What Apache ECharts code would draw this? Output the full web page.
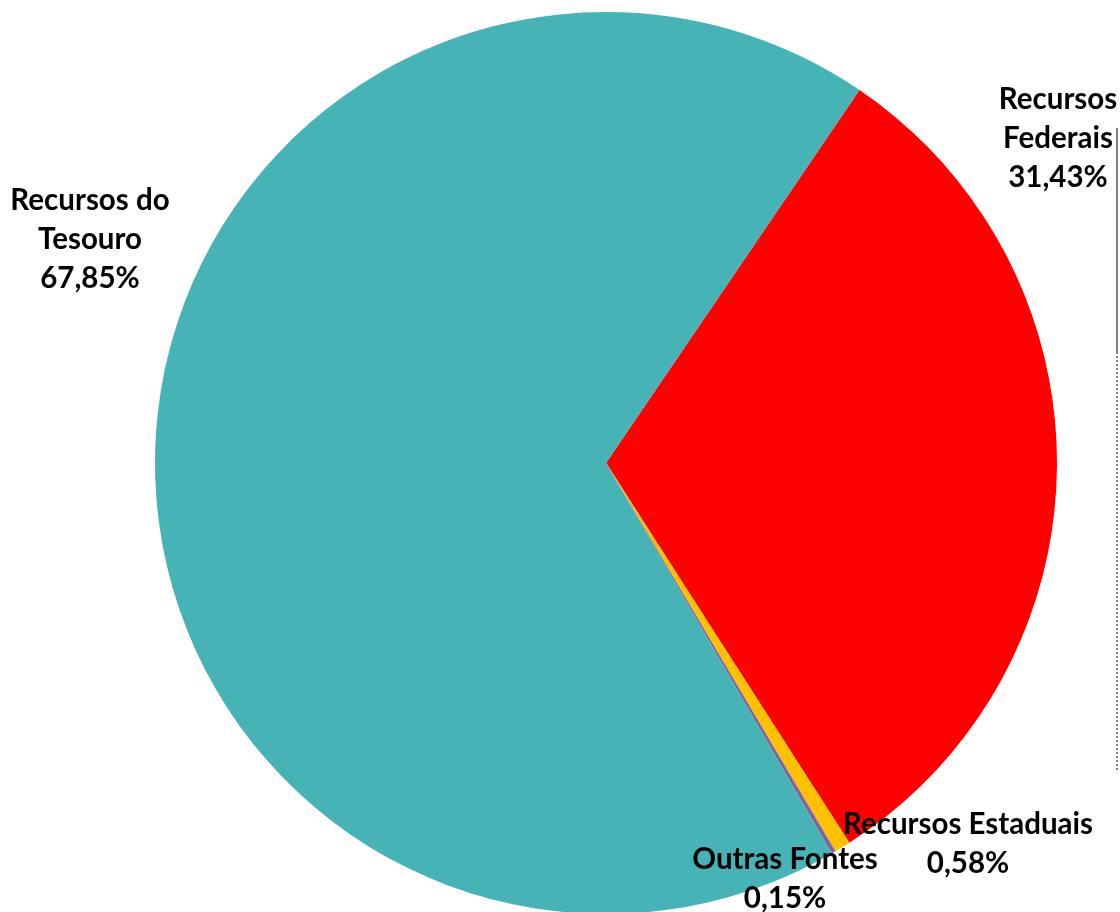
<!DOCTYPE html>
<html>
<head>
<meta charset="utf-8">
<script src="https://cdn.jsdelivr.net/npm/echarts@6/dist/echarts.min.js"></script>
<style>
  html, body { margin: 0; padding: 0; background: #fff; }
  #chart { width: 1120px; height: 912px; }
</style>
</head>
<body>
<div id="chart"></div>
<script>
// source categories, in drawing order (clockwise from the Federais edge)
const categories = ['Recursos Federais', 'Recursos Estaduais', 'Outras Fontes', 'Recursos do Tesouro'];
const labelNames = ['Recursos\nFederais', 'Recursos Estaduais', 'Outras Fontes', 'Recursos do\nTesouro'];
const shares = [31.43, 0.58, 0.15, 67.85];
const colors = ['#FF0000', '#FFC000', '#8064A2', '#46B3B6'];

// where each label sits (text, not marks)
const labelPos = [[1058, 138], [968, 844], [785, 879], [90, 239]];

const chart = echarts.init(document.getElementById('chart'));

chart.setOption({
  animation: false,
  graphic: [
    { type: 'line', shape: { x1: 1117, y1: 128, x2: 1117, y2: 352 }, style: { stroke: '#555', lineWidth: 1.5 } },
    { type: 'line', shape: { x1: 1117, y1: 352, x2: 1117, y2: 772 }, style: { stroke: '#555', lineWidth: 1.5, lineDash: [2, 2] } }
  ],
  series: [
    {
      type: 'pie',
      center: [606, 463],
      radius: 451,
      startAngle: 55.8,
      clockwise: true,
      avoidLabelOverlap: false,
      data: categories.map((c, i) => ({
        name: c,
        value: shares[i],
        itemStyle: { color: colors[i] }
      })),
      itemStyle: { borderWidth: 0 },
      label: {
        show: true,
        fontFamily: 'Lato',
        fontWeight: 'bold',
        fontSize: 29.5,
        lineHeight: 39,
        color: '#000',
        align: 'center',
        formatter: (p) => labelNames[p.dataIndex] + '\n' + shares[p.dataIndex].toFixed(2).replace('.', ',') + '%'
      },
      labelLine: { show: false },
      labelLayout: (p) => ({
        x: labelPos[p.dataIndex][0],
        y: labelPos[p.dataIndex][1],
        align: 'center',
        verticalAlign: 'middle'
      }),
      emphasis: { disabled: true }
    }
  ]
});
</script>
</body>
</html>
